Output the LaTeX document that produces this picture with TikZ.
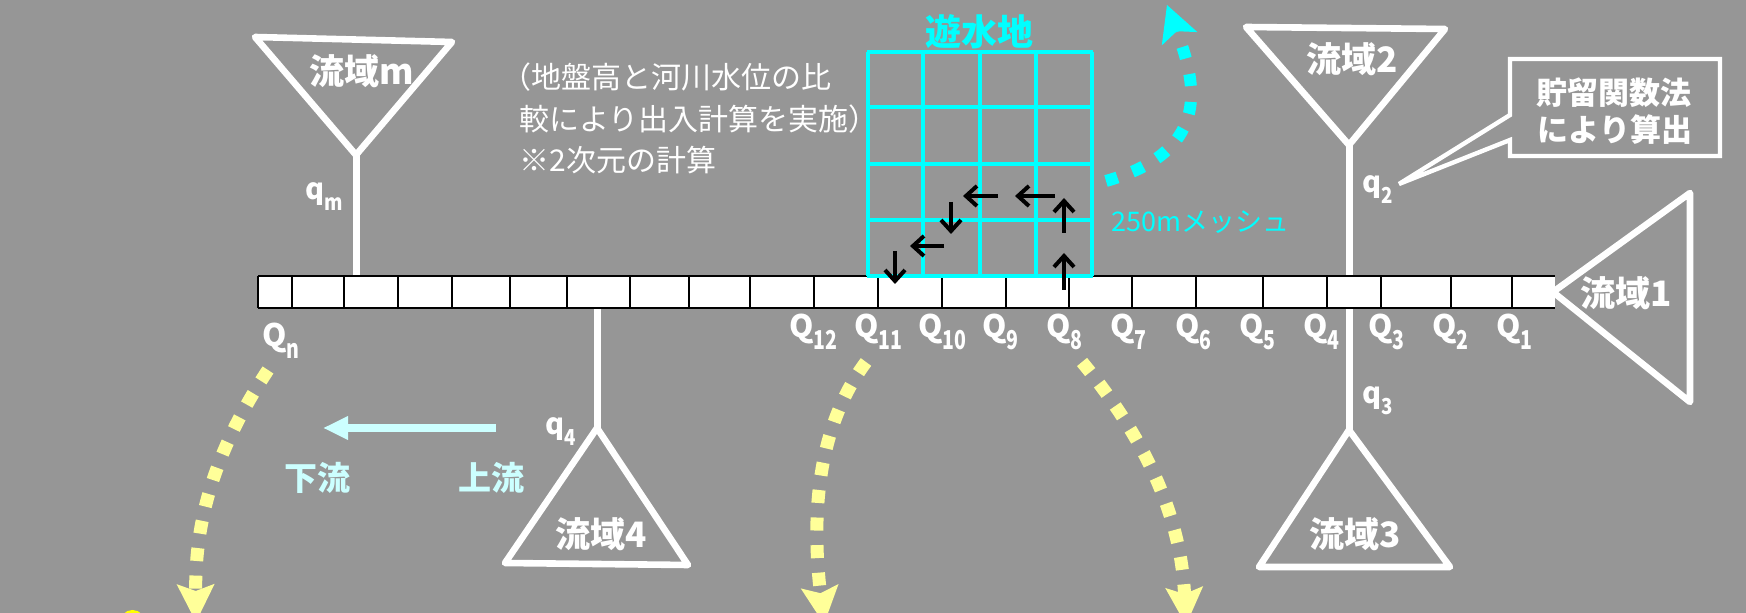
\documentclass[tikz,border=0pt]{standalone}
\usepackage{fontspec}
\setmainfont{Noto Sans CJK JP}
\usepackage{graphicx}
\usetikzlibrary{arrows.meta}
\definecolor{bg}{RGB}{150,150,150}
\definecolor{yel}{RGB}{255,255,153}
\definecolor{lcy}{RGB}{204,255,255}
\definecolor{cy}{RGB}{0,255,255}
\definecolor{ylw}{RGB}{255,255,0}
\newcommand\Qlab[1]{Q\raisebox{-6pt}{\fontsize{13}{13}\selectfont\scalebox{0.75}[1]{#1}}}
\newcommand\qlab[1]{q\raisebox{-5.5pt}{\fontsize{11}{11}\selectfont\scalebox{0.85}[1]{#1}}}
\begin{document}
\begin{tikzpicture}[x=0.5pt,y=-0.5pt,
  basin/.style={draw=white,line width=3.3pt,line join=round},
  stem/.style={draw=white,line width=3.5pt},
  btext/.style={text=white,font=\fontsize{17.5}{17.5}\selectfont\bfseries,inner sep=0pt},
  qtext/.style={text=white,font=\fontsize{15.5}{15.5}\selectfont\bfseries,inner sep=0pt,anchor=base west},
  smq/.style={text=white,font=\fontsize{14.5}{14.5}\selectfont\bfseries,inner sep=0pt,anchor=base west},
  note/.style={text=white,font=\fontsize{15}{15}\selectfont,inner sep=0pt,anchor=west},
  calltext/.style={text=white,font=\fontsize{15.5}{15.5}\selectfont\bfseries,inner sep=0pt},
  dirtext/.style={text=lcy,font=\fontsize{16.5}{16.5}\selectfont\bfseries,inner sep=0pt},
  flowdash/.style={draw=yel,line width=6.5pt,dash pattern=on 6.5pt off 7.3pt,
     -{Stealth[length=19pt,width=19pt,inset=3.5pt,fill=yel,line width=0pt]}},
  cydash/.style={draw=cy,line width=6pt,dash pattern=on 6pt off 8pt,
     -{Stealth[length=18pt,width=19pt,inset=4pt,fill=cy,line width=0pt]}},
  gridl/.style={draw=cy,line width=2pt},
  blk/.style={draw=black,line width=2pt,-{Straight Barb[length=5.5pt,width=10pt]}},
  divider/.style={draw=black,line width=0.7pt},
  callout/.style={draw=white,line width=2.2pt,line join=miter}
]
\useasboundingbox (0,0) rectangle (1746,613);
\clip (0,0) rectangle (1746,613);
\fill[bg] (0,0) rectangle (1746,613);

% coordinates of basins
\coordinate (mA) at (255,37); \coordinate (mB) at (452,42); \coordinate (mC) at (356,155); \coordinate (mS) at (356,278);
\coordinate (b2A) at (1246,27); \coordinate (b2B) at (1445,29); \coordinate (b2C) at (1349,145);
\coordinate (b3A) at (1349,430); \coordinate (b3B) at (1259,567); \coordinate (b3C) at (1450,567);
\coordinate (b4A) at (597,428); \coordinate (b4B) at (505,563); \coordinate (b4C) at (688,565); \coordinate (b4S) at (597,306);
\coordinate (b1A) at (1553,292); \coordinate (b1B) at (1690,193); \coordinate (b1C) at (1690,402);

% stems
\draw[stem] (mC) -- (mS);
\draw[stem] (b2C) -- (b3A);
\draw[stem] (b4S) -- (b4A);

% basins
\draw[basin] (mA) -- (mB) -- (mC) -- cycle;
\draw[basin] (b2A) -- (b2B) -- (b2C) -- cycle;
\draw[basin] (b3A) -- (b3B) -- (b3C) -- cycle;
\draw[basin] (b4A) -- (b4B) -- (b4C) -- cycle;
\draw[basin] (b1A) -- (b1B) -- (b1C) -- cycle;

\node[btext] (tm) at (362,71) {流域m};
\node[btext] (t2) at (1352,59) {流域2};
\node[btext] (t1) at (1626,293) {流域1};
\node[btext] (t3) at (1355,534) {流域3};
\node[btext] (t4) at (601,534) {流域4};

% river strip
\coordinate (sNW) at (258,276); \coordinate (sSE) at (1555,308);
\fill[white] (sNW) rectangle (sSE);
\draw[divider] (258,276) -- (1555,276) (258,308) -- (1555,308) (258,276) -- (258,308);
\foreach \x in {292,344,398,452,510,567,630,689,750,814,878,942,1006,1069,1132,1196,1263,1327,1381,1451,1512}
  \draw[divider] (\x,276) -- (\x,308);

% retention pond grid
\foreach \x in {868,923,980,1036,1092} \draw[gridl] (\x,52) -- (\x,276);
\foreach \y in {52,107,164,220,276} \draw[gridl] (867,\y) -- (1093,\y);
\node[text=cy,font=\fontsize{18}{18}\selectfont\bfseries,inner sep=0pt] (pond) at (979,32) {遊水地};
\node[text=cy,font=\fontsize{13.5}{13.5}\selectfont,inner sep=0pt,anchor=west] (mesh) at (1111,222) {250mメッシュ};

% black flow arrows in grid
\coordinate (a1s) at (998,196); \coordinate (a1e) at (963,196);
\coordinate (a2s) at (1055,196); \coordinate (a2e) at (1015,196);
\coordinate (a3s) at (1064,233); \coordinate (a3e) at (1064,198);
\coordinate (a4s) at (1064,290); \coordinate (a4e) at (1064,253);
\coordinate (a5s) at (951,202); \coordinate (a5e) at (951,234);
\coordinate (a6s) at (944,246); \coordinate (a6e) at (910,246);
\coordinate (a7s) at (895,251); \coordinate (a7e) at (895,284);
\foreach \i in {1,...,7} \draw[blk] (a\i s) -- (a\i e);

% annotation text
\node[note] (ann1) at (501,77) {（地盤高と河川水位の比};
\node[note] (ann2) at (519,119) {較により出入計算を実施）};
\node[note] (ann3) at (519,160) {※2次元の計算};

% callout
\draw[callout] (1510,59) -- (1720,59) -- (1720,156) -- (1510,156) -- (1510,140) -- (1399,184) -- (1510,115) -- cycle;
\node[calltext] (c1) at (1614,93) {貯留関数法};
\node[calltext] (c2) at (1615,130) {により算出};

% q labels
\node[smq] (qm) at (305,200) {\qlab{m}};
\node[smq] (q2) at (1362,193) {\qlab{2}};
\node[smq] (q3) at (1362,404) {\qlab{3}};
\node[smq] (q4) at (545,435) {\qlab{4}};

% Q labels
\foreach \x/\n in {789/12,854/11,918/10,982/9,1046/8,1110/7,1175/6,1239/5,1303/4,1368/3,1432/2,1496/1}
  \node[qtext] (Q\n) at (\x,338) {\Qlab{\n}};
\node[qtext] (Qn) at (262,346.5) {\Qlab{n}};

% upstream / downstream
\coordinate (up) at (496,428); \coordinate (down) at (323,428);
\draw[draw=lcy,line width=3.8pt,-{Triangle[length=12.5pt,width=11pt]}] (up) -- (down);
\node[dirtext] (dn) at (317,478) {下流};
\node[dirtext] (us) at (491,478) {上流};

% yellow outflow arrows
\coordinate (fn0) at (268,370); \coordinate (fn1) at (196,622);
\coordinate (f110) at (866,362); \coordinate (f111) at (824,624);
\coordinate (f80) at (1082,362); \coordinate (f81) at (1186,625);
\draw[flowdash] (fn0) .. controls (215,450) and (195,520) .. (fn1);
\draw[flowdash] (f110) .. controls (815,430) and (812,520) .. (f111);
\draw[flowdash] (f80) .. controls (1130,420) and (1180,500) .. (f81);
\coordinate (dot) at (132.5,622.5);
\fill[ylw] (dot) circle (12.5);

% cyan overflow arrow
\coordinate (cy0) at (1106,181); \coordinate (cy1) at (1167,5);
\draw[cydash] (cy0) .. controls (1215,150) and (1195,80) .. (cy1);
\end{tikzpicture}
\end{document}
